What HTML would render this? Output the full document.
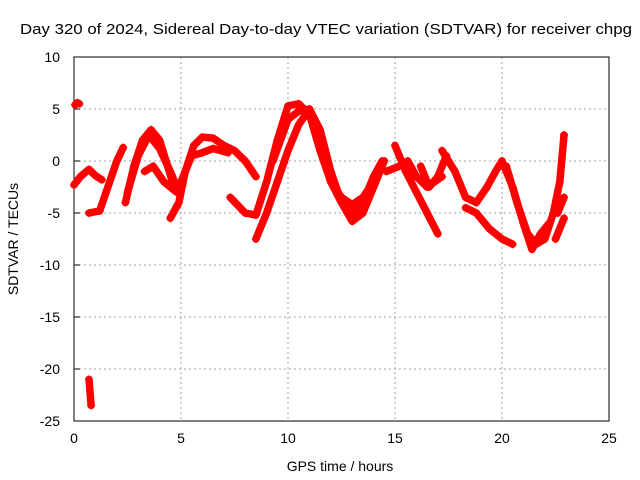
<!DOCTYPE html>
<html><head><meta charset="utf-8"><style>
body{margin:0;background:#fff}
svg{display:block;font-family:"Liberation Sans",sans-serif}
</style></head><body>
<svg id="chart" width="640" height="480" xmlns="http://www.w3.org/2000/svg">
<rect width="640" height="480" fill="#fff"/>
<text x="20" y="34" font-size="15" textLength="612" lengthAdjust="spacingAndGlyphs">Day 320 of 2024, Sidereal Day-to-day VTEC variation (SDTVAR) for receiver chpg</text>
<g id="grid"></g>
<g id="axes"></g>
<g id="series"></g>
<text x="340" y="471" font-size="14" text-anchor="middle">GPS time / hours</text>
<text x="18" y="239" font-size="14" text-anchor="middle" transform="rotate(-90 18 239)">SDTVAR / TECUs</text>
</svg>
<script>
const xTicks=[0,5,10,15,20,25];
const yTicks=[10,5,0,-5,-10,-15,-20,-25];
const arcDot=[[0.05,5.4],[0.15,5.6],[0.25,5.5]];
const arcA=[[0,-2.3],[0.3,-1.5],[0.7,-0.8],[1,-1.4],[1.3,-1.8]];
const arcB=[[0.7,-5],[1.2,-4.8],[1.5,-3],[2,0],[2.3,1.3]];
const arcC=[[2.4,-4],[2.8,-0.5],[3.2,2],[3.6,3],[4,2],[4.3,0],[4.6,-2]];
const arcC2=[[2.5,-3],[3,0.5],[3.5,2.5],[4,1.2],[4.5,-1],[4.8,-2.5]];
const arcD=[[4.5,-5.5],[4.9,-4],[5.2,-1],[5.6,1.5],[6,2.3],[6.5,2.2],[7,1.5],[7.5,1],[8,0],[8.5,-1.5]];
const arcE=[[3.3,-1],[3.7,-0.5],[4.2,-2],[4.8,-3],[5.2,-1],[5.5,0.5],[6,0.8],[6.5,1.2],[7.2,0.8]];
const arcF=[[7.3,-3.5],[8,-5],[8.5,-5.2],[9,-2],[9.5,2],[10,5.3],[10.5,5.5],[11,4.5],[11.5,1],[12,-2],[12.5,-4],[13,-5],[13.5,-4],[14,-1.5],[14.4,0]];
const arcG=[[8.5,-7.5],[9,-5],[9.5,-2],[10,1],[10.5,3.5],[11,5],[11.5,3],[12,-1],[12.5,-4],[13,-5.8],[13.5,-5],[14,-2.5],[14.5,0]];
const arcH=[[9.3,0],[10,4],[10.5,4.8],[11,5],[11.5,2],[12,-2],[12.5,-3.5],[13,-4.2],[13.5,-3.5],[14,-2]];
const arcI=[[15,1.5],[15.5,-1],[16,-3],[16.5,-5],[17,-7]];
const arcJ=[[14.6,-1],[15.2,-0.5],[15.6,0],[16,-1.5],[16.5,-2.5],[17.2,-1.5]];
const arcK=[[17.2,1],[17.8,-1],[18.3,-3.5],[18.8,-4],[19.3,-2.5],[19.7,-1],[20,0]];
const arcL=[[16.2,-0.5],[16.6,-2.5],[17,-1.5],[17.4,0.5]];
const arcM=[[18.3,-4.5],[18.8,-5],[19.4,-6.5],[20,-7.5],[20.5,-8]];
const arcN=[[20,0],[20.5,-2.5],[21,-6],[21.4,-8.5],[21.8,-7],[22.2,-6]];
const arcO=[[20.2,-0.5],[20.7,-4],[21.2,-7],[21.6,-8],[22,-7.5],[22.4,-5],[22.7,-2],[22.9,2.5]];
const arcP=[[22.5,-7.5],[22.9,-5.5]];
const arcQ=[[22.6,-5],[22.9,-3.5]];
const arcR=[[0.7,-21],[0.8,-23.5]];
const arcs=[arcDot,arcA,arcB,arcC,arcC2,arcD,arcE,arcF,arcG,arcH,arcI,arcJ,arcK,arcL,arcM,arcN,arcO,arcP,arcQ,arcR];
const L=74,R=609,T=57,B=421;
const xs=h=>L+(h-0)/25*(R-L);
const ys=v=>T+(10-v)/35*(B-T);
const NS="http://www.w3.org/2000/svg";
const mk=(t,a,p)=>{const e=document.createElementNS(NS,t);for(const k in a)e.setAttribute(k,a[k]);p.appendChild(e);return e;};
const grid=document.getElementById('grid'),axes=document.getElementById('axes'),ser=document.getElementById('series');
xTicks.forEach(t=>{
 const x=xs(t);
 if(t>0&&t<25){const g=mk('line',{x1:x,x2:x,y1:T,y2:B,stroke:'#a0a0a0','stroke-dasharray':'2,3'},grid);
 
 }
 const tx=mk('text',{x:x,y:B+22,'font-size':14,'text-anchor':'middle'},axes);tx.textContent=t;
 
 
});
yTicks.forEach(t=>{
 const y=ys(t);
 if(t<10&&t>-25){const g=mk('line',{x1:L,x2:R,y1:y,y2:y,stroke:'#a0a0a0','stroke-dasharray':'2,3'},grid);
 
 }
 mk('line',{x1:L,x2:L+6,y1:y,y2:y,stroke:'#000'},axes);
 const tx=mk('text',{x:L-14,y:y+5,'font-size':14,'text-anchor':'end'},axes);tx.textContent=t;
 
 
});
const fr=mk('rect',{x:L,y:T,width:R-L,height:B-T,fill:'none',stroke:'#000'},axes);


arcs.forEach(a=>{
 const pl=mk('polyline',{points:a.map(p=>xs(p[0])+','+ys(p[1])).join(' '),fill:'none',stroke:'#f00','stroke-width':7.5,'stroke-linejoin':'round','stroke-linecap':'round'},ser);
 
 
 a.forEach(p=>{
  const x=xs(p[0]),y=ys(p[1]);
  const m=mk('path',{d:`M${x-4},${y}h8M${x},${y-4}v8`,stroke:'#f00','stroke-width':1.2},ser);
  
  
 });
});
</script>
</body></html>
